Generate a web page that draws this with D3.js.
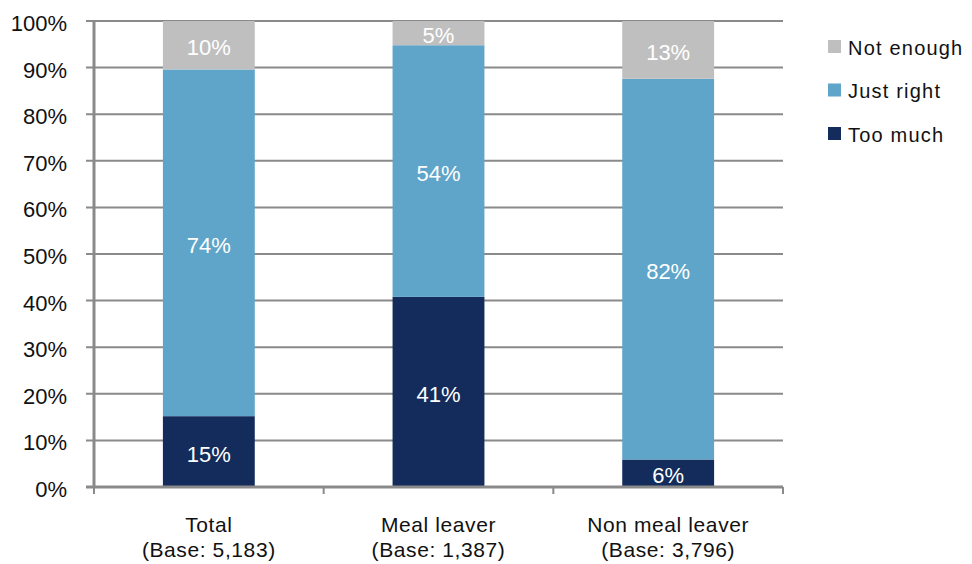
<!DOCTYPE html>
<html><head><meta charset="utf-8">
<script src="https://cdn.jsdelivr.net/npm/d3@7"></script>
<style>body{margin:0;background:#fff}svg{display:block}text{font-family:"Liberation Sans",Arial,sans-serif}</style>
</head><body><svg id="c" width="972" height="564"></svg>
<script>
const categories = ["Total", "Meal leaver", "Non meal leaver"];
const bases = ["(Base: 5,183)", "(Base: 1,387)", "(Base: 3,796)"];
const seriesNames = ["Too much", "Just right", "Not enough"];
const tooMuch = [15.2, 40.8, 5.9];
const justRight = [74.4, 54.0, 81.7];
const notEnough = [10.4, 5.2, 12.6];
const yTicks = [0, 10, 20, 30, 40, 50, 60, 70, 80, 90, 100];
const colors = ["#132c5b", "#5ea5c9", "#bfbfbf"];

const svg = d3.select("#c");
const m = {l: 94, r: 189, t: 21, b: 77};
const W = 972, H = 564;
const x = d3.scaleBand().domain(categories).range([m.l, W - m.r]).paddingInner(0.6).paddingOuter(0.3);
const y = d3.scaleLinear().domain([0, 100]).range([H - m.b, m.t]);
const grid = "#8a8a8a";

// gridlines
svg.append("g").selectAll("line").data(yTicks).join("line")
  .attr("x1", m.l - 8).attr("x2", W - m.r).attr("y1", d => y(d)).attr("y2", d => y(d))
  .attr("stroke", grid).attr("stroke-width", 2);
// y labels
svg.append("g").selectAll("text").data(yTicks).join("text")
  .attr("x", 67).attr("y", d => y(d) + 10).attr("text-anchor", "end")
  .attr("font-size", 22).attr("fill", "#111").text(d => d + "%");

// stacked data
const rows = categories.map((c, i) => ({cat: c, "Too much": tooMuch[i], "Just right": justRight[i], "Not enough": notEnough[i]}));
const stack = d3.stack().keys(seriesNames)(rows);
const g = svg.append("g");
stack.forEach((s, si) => {
  g.selectAll(null).data(s).join("rect")
    .attr("x", d => x(d.data.cat)).attr("width", x.bandwidth())
    .attr("y", d => y(Math.min(d[1], 100))).attr("height", d => y(d[0]) - y(Math.min(d[1], 100)))
    .attr("fill", colors[si]);
  g.selectAll(null).data(s).join("text")
    .attr("x", d => x(d.data.cat) + x.bandwidth() / 2)
    .attr("y", d => (y(d[0]) + y(Math.min(d[1], 100))) / 2 + 10)
    .attr("text-anchor", "middle").attr("font-size", 22).attr("fill", "#fff")
    .text(d => Math.round(d[1] - d[0]) + "%");
});

// axes lines
svg.append("line").attr("x1", m.l).attr("x2", m.l).attr("y1", y(100)).attr("y2", y(0) + 1)
  .attr("stroke", grid).attr("stroke-width", 3);
svg.append("line").attr("x1", m.l - 8).attr("x2", W - m.r).attr("y1", y(0)).attr("y2", y(0))
  .attr("stroke", grid).attr("stroke-width", 3);
const bounds = d3.range(categories.length + 1).map(i => m.l + i * (W - m.r - m.l) / categories.length);
svg.append("g").selectAll("line").data(bounds).join("line")
  .attr("x1", d => d).attr("x2", d => d).attr("y1", y(0)).attr("y2", y(0) + 7)
  .attr("stroke", grid).attr("stroke-width", 2);

// category labels
const cg = svg.append("g");
cg.selectAll(null).data(categories).join("text")
  .attr("x", d => x(d) + x.bandwidth() / 2).attr("y", 532)
  .attr("text-anchor", "middle").attr("font-size", 21).attr("letter-spacing", 0.6).attr("fill", "#111").text(d => d);
cg.selectAll(null).data(bases).join("text")
  .attr("x", (d, i) => x(categories[i]) + x.bandwidth() / 2).attr("y", 557)
  .attr("text-anchor", "middle").attr("font-size", 21).attr("letter-spacing", 0.6).attr("fill", "#111").text(d => d);

// legend
const leg = ["Not enough", "Just right", "Too much"];
const lg = svg.append("g").selectAll("g").data(leg).join("g")
  .attr("transform", (d, i) => `translate(828,${40 + i * 43.5})`);
lg.append("rect").attr("width", 13).attr("height", 13).attr("fill", d => colors[seriesNames.indexOf(d)]);
lg.append("text").attr("x", 20).attr("y", 14.5).attr("font-size", 20).attr("letter-spacing", 1.2).attr("fill", "#111").text(d => d);
</script></body></html>
